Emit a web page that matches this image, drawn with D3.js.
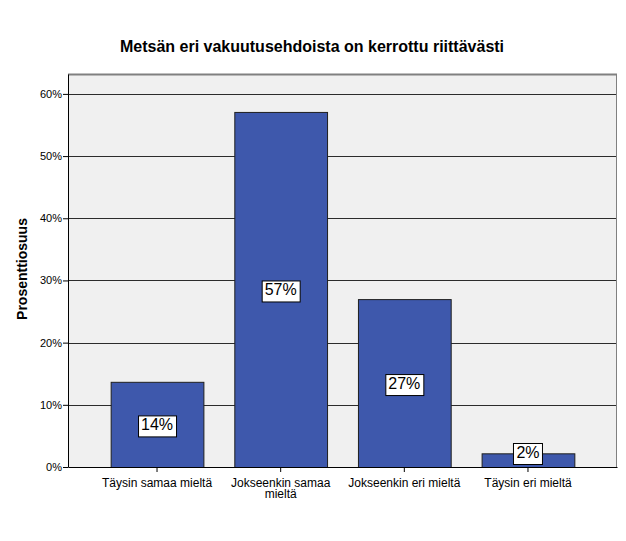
<!DOCTYPE html>
<html lang="fi">
<head>
  <meta charset="UTF-8" />
  <title>Metsän eri vakuutusehdoista on kerrottu riittävästi</title>
  <script src="https://d3js.org/d3.v7.min.js"></script>
  <style>
    body { margin: 0; background: #fff; font-family: Arial, "Liberation Sans", sans-serif; }
    .tick text { font-size: 11px; fill: #000; }
  </style>
</head>
<body>
  <div id="chart"></div>
  <script>
    const categories = [["Täysin samaa mieltä"], ["Jokseenkin samaa", "mieltä"], ["Jokseenkin eri mieltä"], ["Täysin eri mieltä"]];
    const values = [13.7, 57.1, 27.0, 2.2];
    const valueLabels = ["14%", "57%", "27%", "2%"];
    const yTicks = [0, 10, 20, 30, 40, 50, 60];

    const width = 626, height = 541;
    const margin = {top: 74, right: 9, bottom: 74, left: 68};
    const innerWidth = width - margin.left - margin.right;
    const innerHeight = height - margin.top - margin.bottom;

    const svg = d3.select("#chart").append("svg")
      .attr("width", width)
      .attr("height", height);
    const g = svg.append("g").attr("transform", `translate(${margin.left},${margin.top})`);

    const x = d3.scaleBand().domain(d3.range(categories.length)).range([0, innerWidth])
      .paddingInner(0.25).paddingOuter(0.345);
    const y = d3.scaleLinear().domain([0, 63.2]).range([innerHeight, 0]);

    g.append("rect").attr("width", innerWidth).attr("height", innerHeight).attr("fill", "#f0f0f0");

    // gridlines
    g.selectAll("line.grid").data(yTicks.filter(t => t > 0)).enter().append("line")
      .attr("class", "grid")
      .attr("x1", 0).attr("x2", innerWidth)
      .attr("y1", d => Math.round(y(d)) + 0.5).attr("y2", d => Math.round(y(d)) + 0.5)
      .attr("stroke", "#2b2b2b").attr("stroke-width", 1);

    // frame
    g.append("line").attr("x1", 0).attr("x2", innerWidth).attr("y1", 0.5).attr("y2", 0.5)
      .attr("stroke", "#808080").attr("stroke-width", 2);
    g.append("line").attr("x1", innerWidth - 0.5).attr("x2", innerWidth - 0.5).attr("y1", 0).attr("y2", innerHeight)
      .attr("stroke", "#808080").attr("stroke-width", 1);

    // bars
    g.selectAll("rect.bar").data(values).enter().append("rect")
      .attr("class", "bar")
      .attr("x", (d, i) => x(i) + 0.5)
      .attr("width", x.bandwidth())
      .attr("y", d => y(d) + 0.5)
      .attr("height", d => innerHeight - y(d))
      .attr("fill", "#3e58ac")
      .attr("stroke", "#1f1f1f")
      .attr("stroke-width", 1);

    // axes
    const yAxis = g.append("g")
      .call(d3.axisLeft(y).tickValues(yTicks).tickFormat(d => d + "%").tickSize(5).tickSizeOuter(0));
    yAxis.select(".domain").attr("stroke", "#000");
    yAxis.selectAll(".tick text").attr("x", -6);

    const xAxis = g.append("g").attr("transform", `translate(0,${innerHeight})`)
      .call(d3.axisBottom(x).tickSize(5).tickSizeOuter(0).tickFormat(""));
    xAxis.select(".domain").attr("stroke", "#000");
    xAxis.selectAll(".tick line").attr("stroke", "#000");

    xAxis.selectAll(".tick").each(function(d) {
      const t = d3.select(this).select("text").attr("y", 0).attr("dy", null);
      categories[d].forEach((line, k) => {
        t.append("tspan").attr("x", 0).attr("y", 20 + k * 11).text(line);
      });
    });
    xAxis.selectAll(".tick text").style("font-size", "12px");

    // value labels
    const labels = g.selectAll("g.vlabel").data(values).enter().append("g")
      .attr("class", "vlabel")
      .attr("transform", (d, i) => {
        let cy = (y(d) + innerHeight) / 2;
        cy = Math.min(cy, innerHeight - 15);
        return `translate(${x(i) + x.bandwidth() / 2},${cy})`;
      });
    labels.append("text")
      .attr("text-anchor", "middle")
      .attr("dy", "0.36em")
      .style("font-size", "16px")
      .text((d, i) => valueLabels[i]);
    labels.each(function() {
      const gr = d3.select(this);
      const bb = gr.select("text").node().getBBox();
      gr.insert("rect", "text")
        .attr("x", Math.round(bb.x - 3) + 0.5).attr("y", Math.round(bb.y) - 0.5)
        .attr("width", Math.round(bb.width + 6)).attr("height", Math.round(bb.height + 4))
        .attr("fill", "#fff").attr("stroke", "#000").attr("stroke-width", 1);
    });

    // title and axis label
    svg.append("text")
      .attr("x", 312).attr("y", 52)
      .attr("text-anchor", "middle")
      .style("font-size", "16px").style("font-weight", "bold")
      .text("Metsän eri vakuutusehdoista on kerrottu riittävästi");

    svg.append("text")
      .attr("transform", "translate(27,269) rotate(-90)")
      .attr("text-anchor", "middle")
      .style("font-size", "14px").style("font-weight", "bold")
      .text("Prosenttiosuus");
  </script>
</body>
</html>
